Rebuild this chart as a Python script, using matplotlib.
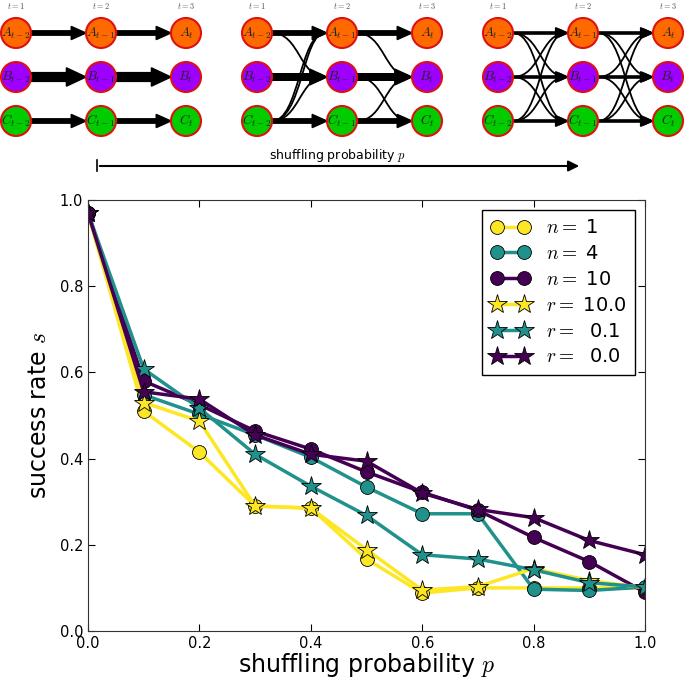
"""
success rate vs shuffling probability, with network sketch on top
"""
import matplotlib
matplotlib.use('Agg')
import matplotlib.pyplot as plt
from matplotlib.patches import Circle, FancyArrowPatch
from matplotlib.path import Path

plt.rcParams['mathtext.fontset'] = 'cm'
plt.rcParams['font.family'] = 'DejaVu Sans'

# data
p = [0.0, 0.1, 0.2, 0.3, 0.4, 0.5, 0.6, 0.7, 0.8, 0.9, 1.0]
n1 = [0.97, 0.51, 0.415, 0.29, 0.285, 0.167, 0.088, 0.10, 0.10, 0.10, 0.10]
n4 = [0.97, 0.548, 0.503, 0.455, 0.403, 0.334, 0.272, 0.272, 0.097, 0.094, 0.102]
n10 = [0.97, 0.58, 0.525, 0.464, 0.422, 0.369, 0.322, 0.28, 0.217, 0.161, 0.09]
r10 = [0.97, 0.53, 0.487, 0.29, 0.285, 0.189, 0.095, 0.103, 0.145, 0.117, 0.10]
r01 = [0.97, 0.608, 0.517, 0.41, 0.336, 0.268, 0.177, 0.167, 0.142, 0.112, 0.102]
r00 = [0.97, 0.555, 0.538, 0.455, 0.41, 0.394, 0.32, 0.282, 0.263, 0.21, 0.177]

yellow = '#fde725'
teal = '#21918c'
purple = '#440154'

# diagram: node labels, colours, edges (src row, dst row, weight) per panel
letters = ['A', 'B', 'C']
node_colors = ['#ff6a00', '#9d00ff', '#00cc00']
subs = ['t-2', 't-1', 't']
panel_edges = [
    [(0, 0, 4), (1, 1, 8), (2, 2, 4)],
    [(0, 0, 4), (1, 1, 6), (2, 2, 4), (0, 1, 1.3), (2, 0, 1.3), (2, 0, 1.3), (2, 1, 1.3)],
    [(0, 0, 2), (1, 1, 2), (2, 2, 2), (0, 1, 1.3), (0, 2, 1.3), (1, 0, 1.3),
     (1, 2, 1.3), (2, 0, 1.3), (2, 1, 1.3)],
]
panel_edges2 = [
    [(0, 0, 4), (1, 1, 8), (2, 2, 4)],
    [(0, 0, 4), (1, 1, 6), (2, 2, 4), (0, 1, 1.3), (1, 2, 1.3), (2, 1, 1.3)],
    [(0, 0, 2), (1, 1, 2), (2, 2, 2), (0, 1, 1.3), (0, 2, 1.3), (1, 0, 1.3),
     (1, 2, 1.3), (2, 0, 1.3), (2, 1, 1.3)],
]

fig = plt.figure(figsize=(6.85, 6.81), dpi=100)

# ---- top sketch, drawn in pixel units
top = fig.add_axes([0, 1 - 180 / 681., 1, 180 / 681.])
top.set_xlim(0, 685)
top.set_ylim(180, 0)
top.axis('off')

rad = 15
panel_x = [16, 257, 498]
col_dx = [0, 85, 170]
row_y = [33, 77, 121]

for k in range(3):
    xs = [panel_x[k] + d for d in col_dx]
    for c in range(3):
        top.text(xs[c], 6, '$t=%d$' % (c + 1), fontsize=6, color='#555555',
                 ha='center', va='center')
    for step, edges in enumerate([panel_edges[k], panel_edges2[k]]):
        x0 = xs[step] + rad
        x1 = xs[step + 1] - rad
        seen = {}
        for (a, b, w) in edges:
            y0 = row_y[a]
            y1 = row_y[b]
            if a == b:
                hl = 10 + w * 1.2
                top.arrow(x0, y0, x1 - x0, 0, width=w * 1.1, head_width=8 + w * 1.3,
                          head_length=hl, length_includes_head=True, color='k',
                          zorder=2)
            else:
                off = seen.get((a, b), 0)
                seen[(a, b)] = off + 1
                xm = (x0 + x1) / 2. + 3 * off
                path = Path([(x0, y0), (xm, y0), (xm, y1), (x1, y1)],
                            [Path.MOVETO, Path.CURVE4, Path.CURVE4, Path.CURVE4])
                arr = FancyArrowPatch(path=path, arrowstyle='-|>', mutation_scale=12,
                                      lw=w, color='k', zorder=2)
                top.add_patch(arr)
    for c in range(3):
        for r in range(3):
            top.add_patch(Circle((xs[c], row_y[r]), rad, facecolor=node_colors[r],
                                 edgecolor='#dd1111', lw=1.5, zorder=3))
            top.text(xs[c], row_y[r], '$%s_{%s}$' % (letters[r], subs[c]),
                     fontsize=9.5, ha='center', va='center', color='#222222', zorder=4)

top.plot([97, 97], [160, 171], color='k', lw=1.2)
top.add_patch(FancyArrowPatch((97, 166), (582, 166), arrowstyle='-|>',
                              mutation_scale=16, lw=1.5, color='k'))
top.text(338, 156, 'shuffling probability $p$', fontsize=9, ha='center', va='center')

# ---- main plot
ax = fig.add_axes([88 / 685., 1 - 631 / 681., (645 - 88) / 685., (631 - 200) / 681.])

ax.plot(p, n1, c=yellow, marker='o', ms=10, mec='k', mew=0.6, lw=2.5, label='$n=$ 1')
ax.plot(p, n4, c=teal, marker='o', ms=10, mec='k', mew=0.6, lw=2.5, label='$n=$ 4')
ax.plot(p, n10, c=purple, marker='o', ms=10, mec='k', mew=0.6, lw=2.5, label='$n=$ 10')
ax.plot(p, r10, c=yellow, marker='*', ms=15, mec='k', mew=0.6, lw=2.5, label='$r=$ 10.0')
ax.plot(p, r01, c=teal, marker='*', ms=15, mec='k', mew=0.6, lw=2.5, label='$r=$  0.1')
ax.plot(p, r00, c=purple, marker='*', ms=15, mec='k', mew=0.6, lw=2.5, label='$r=$  0.0')

ax.set_xlim(0, 1)
ax.set_ylim(0, 1)
ax.set_xticks([0.0, 0.2, 0.4, 0.6, 0.8, 1.0])
ax.set_yticks([0.0, 0.2, 0.4, 0.6, 0.8, 1.0])
ax.tick_params(direction='in', top=True, right=True, length=5, labelsize=10.5)
for s in ax.spines.values():
    s.set_color('#333333')
ax.set_xlabel('shuffling probability $p$', fontsize=17, labelpad=0)
ax.set_ylabel('success rate $s$', fontsize=17, labelpad=6)

leg = ax.legend(loc='upper right', numpoints=2, fontsize=14, fancybox=False,
                framealpha=1, edgecolor='k', handlelength=2.0, borderpad=0.45,
                labelspacing=0.35)
leg.get_frame().set_linewidth(1.0)

fig.savefig('out.png', dpi=100)
